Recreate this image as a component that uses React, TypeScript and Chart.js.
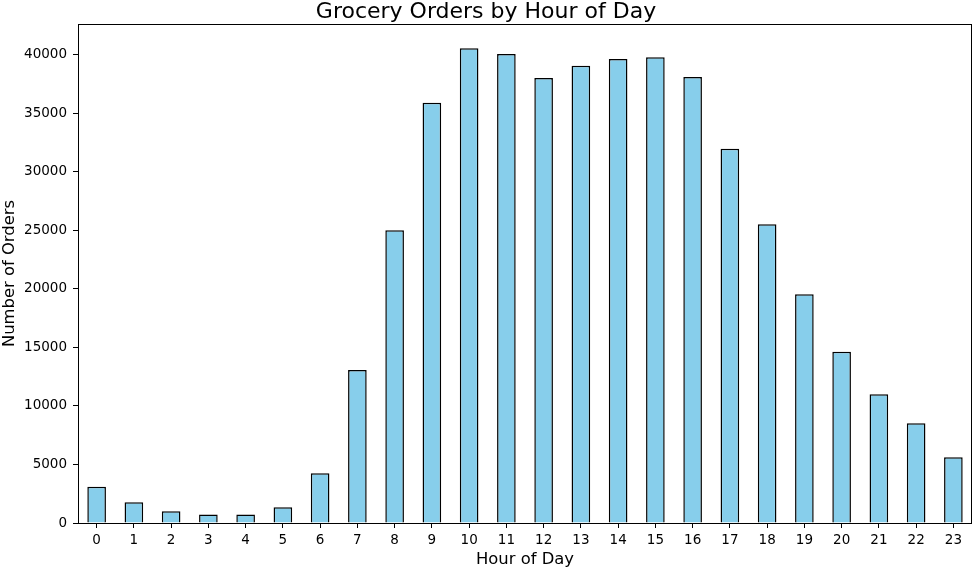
import React, { useEffect, useRef } from "react";
import { Chart, registerables } from "chart.js";

Chart.register(...registerables);

// Hours of the day (categories)
const hours = [
  "0", "1", "2", "3", "4", "5", "6", "7", "8", "9", "10", "11",
  "12", "13", "14", "15", "16", "17", "18", "19", "20", "21", "22", "23",
];
// Number of orders per hour
const orders = [
  3100, 1770, 1000, 720, 720, 1340, 4250, 13080, 25020, 35900, 40560, 40060,
  38010, 39060, 39630, 39800, 38100, 31970, 25530, 19550, 14620, 11000, 8520, 5620,
];
// Y axis tick values
const yTicks = [0, 5000, 10000, 15000, 20000, 25000, 30000, 35000, 40000];
const yMax = 42630;

const FONT = "'DejaVu Sans', sans-serif";

// Draw the four spines of the plot frame, like matplotlib does
const framePlugin = {
  id: "frame",
  afterDatasetsDraw(chart: Chart) {
    const { ctx, chartArea } = chart;
    ctx.save();
    ctx.strokeStyle = "#000";
    ctx.lineWidth = 1;
    ctx.strokeRect(
      Math.round(chartArea.left) + 0.5,
      Math.round(chartArea.top) + 0.5,
      Math.round(chartArea.right - chartArea.left) - 1,
      Math.round(chartArea.bottom - chartArea.top)
    );
    ctx.restore();
  },
};

const App = () => {
  const canvasRef = useRef<HTMLCanvasElement>(null);

  useEffect(() => {
    document.body.style.margin = "0";
    if (!canvasRef.current) return;
    Chart.defaults.color = "#000";
    Chart.defaults.font.family = FONT;

    const chart = new Chart(canvasRef.current, {
      type: "bar",
      data: {
        labels: hours,
        datasets: [
          {
            data: orders,
            backgroundColor: "#87CEEB",
            borderColor: "#000",
            borderWidth: 1.5,
            borderSkipped: "start",
            barPercentage: 0.5,
            categoryPercentage: 1.0,
          },
        ],
      },
      options: {
        animation: false,
        responsive: false,
        layout: { padding: { top: 0, right: 1, bottom: 0, left: 0 } },
        plugins: {
          legend: { display: false },
          tooltip: { enabled: false },
          title: {
            display: true,
            text: "Grocery Orders by Hour of Day",
            color: "#000",
            font: { family: FONT, size: 22, weight: "normal", lineHeight: 1 },
            padding: { top: 1, bottom: 1 },
          },
        },
        scales: {
          x: {
            offset: true,
            grid: {
              display: true,
              offset: false,
              drawOnChartArea: false,
              drawTicks: true,
              tickLength: 5,
              color: "#000",
            },
            border: { display: false },
            ticks: {
              color: "#000",
              font: { family: FONT, size: 13.5 },
              padding: 4,
              maxRotation: 0,
              autoSkip: false,
            },
            title: {
              display: true,
              text: "Hour of Day",
              color: "#000",
              font: { family: FONT, size: 16.4 },
              padding: { top: 0, bottom: 0 },
            },
            afterFit(scale: any) {
              scale.height = 47;
            },
          },
          y: {
            min: 0,
            max: yMax,
            grid: {
              display: true,
              drawOnChartArea: false,
              drawTicks: true,
              tickLength: 5,
              color: "#000",
            },
            border: { display: false },
            afterBuildTicks(scale: any) {
              scale.ticks = yTicks.map((v) => ({ value: v }));
            },
            ticks: {
              color: "#000",
              font: { family: FONT, size: 13.5 },
              padding: 6,
              callback: (v: any) => String(v),
            },
            title: {
              display: true,
              text: "Number of Orders",
              color: "#000",
              font: { family: FONT, size: 16.4 },
              padding: { top: 0, bottom: 0 },
            },
            afterFit(scale: any) {
              scale.width = 78;
            },
          },
        },
      },
      plugins: [framePlugin],
    });

    return () => {
      chart.destroy();
    };
  }, []);

  return (
    <div style={{ width: 973, height: 570 }}>
      <canvas ref={canvasRef} width={973} height={570} style={{ display: "block" }} />
    </div>
  );
};

export default App;
